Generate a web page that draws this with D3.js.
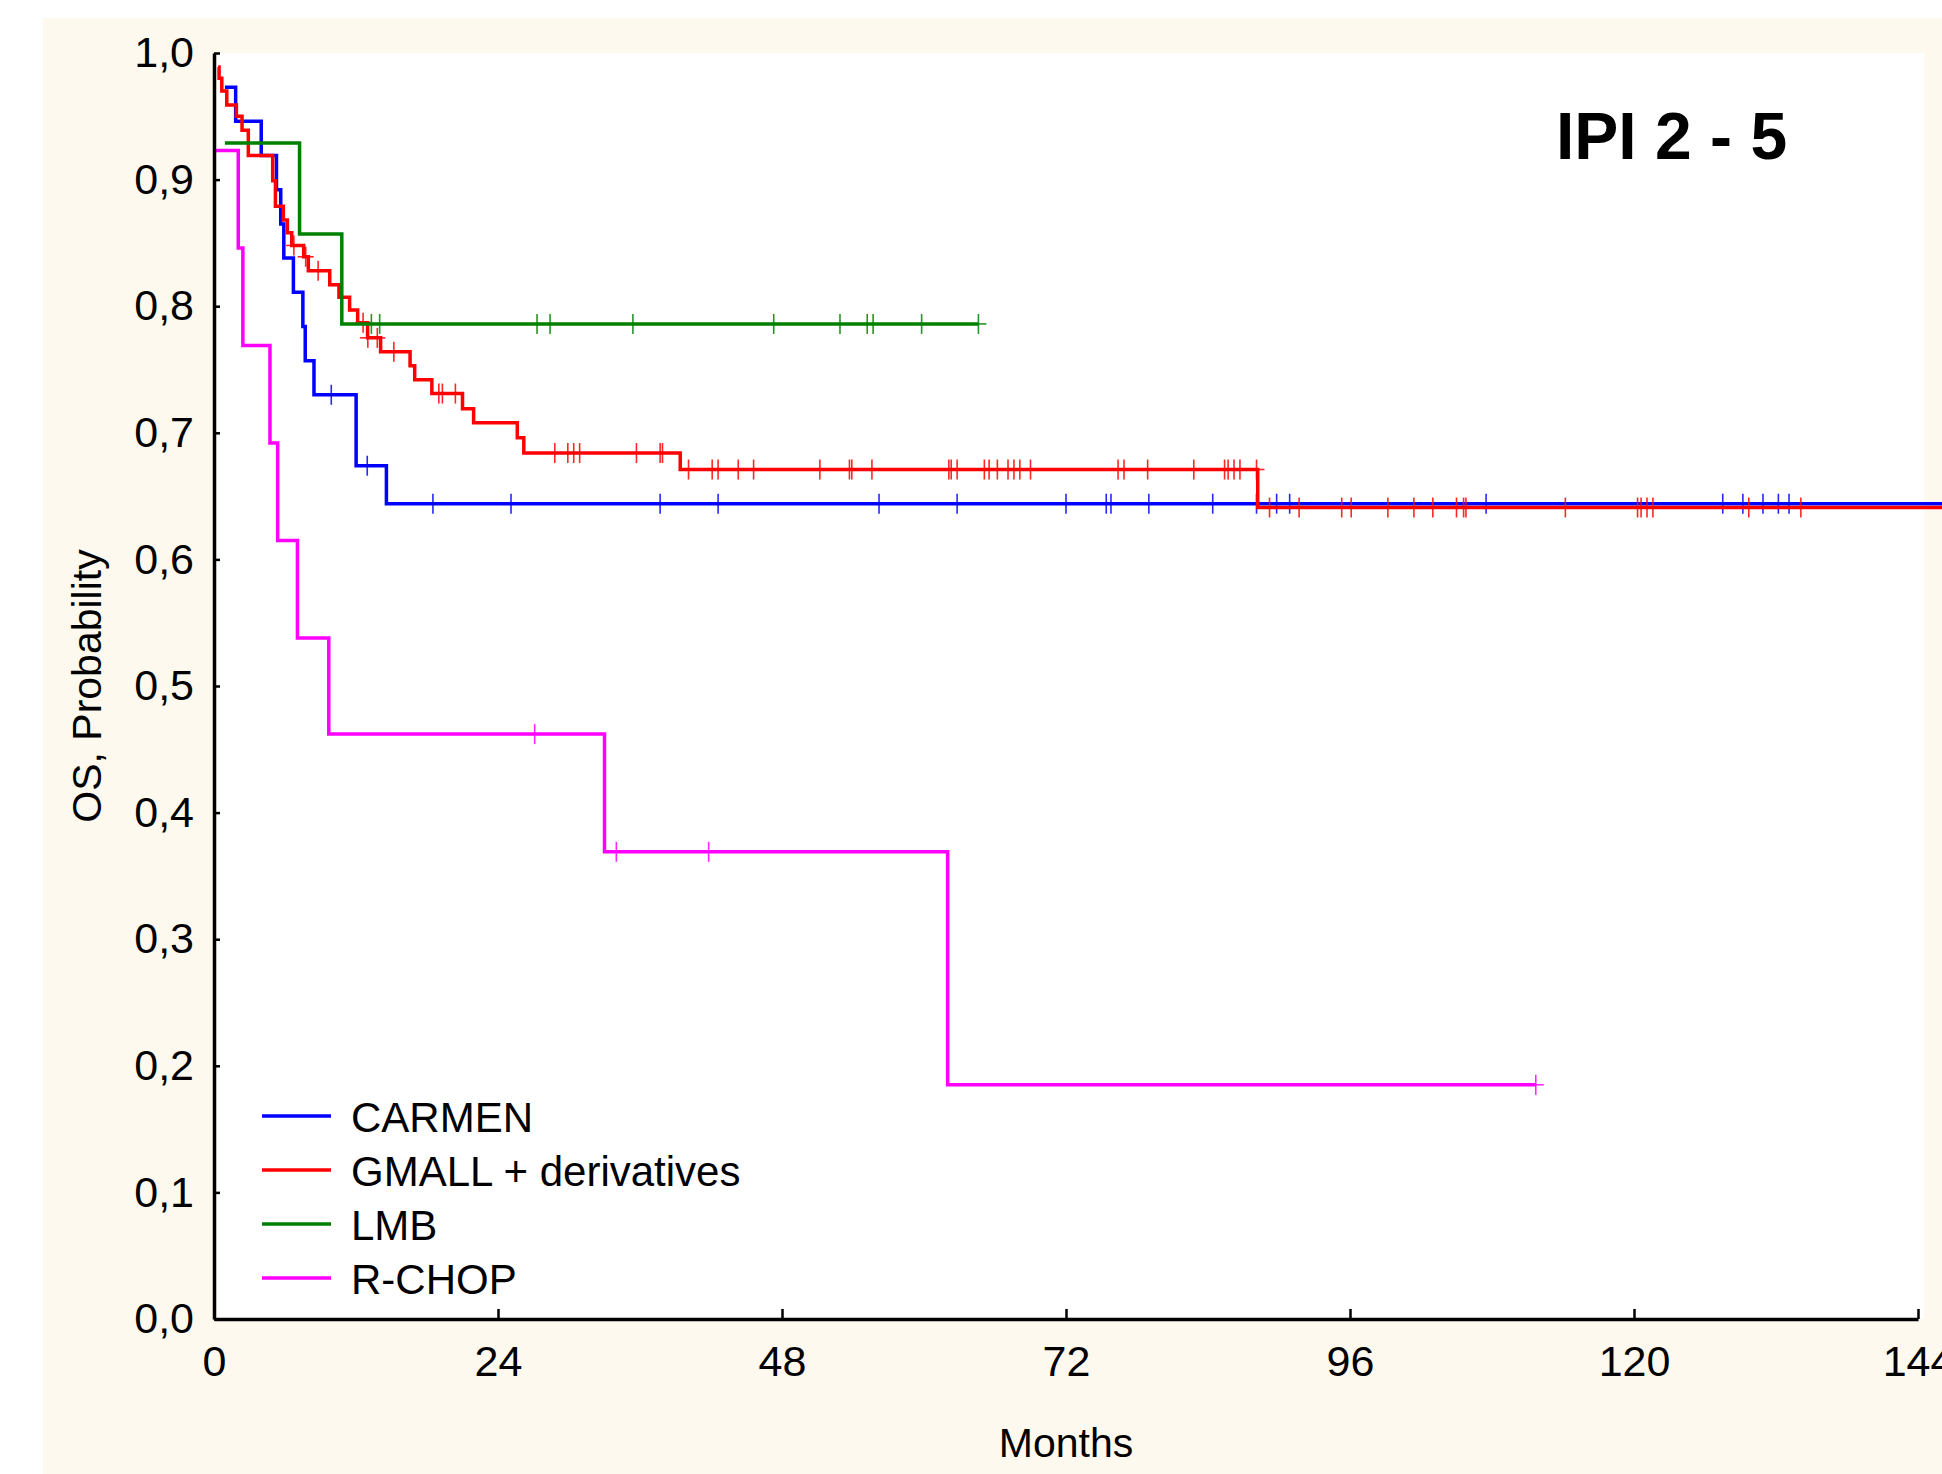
<!DOCTYPE html>
<html>
<head>
<meta charset="utf-8">
<script src="https://cdnjs.cloudflare.com/ajax/libs/d3/7.8.5/d3.min.js"></script>
<style>
  body { margin: 0; background: #fff; }
  svg text { font-family: "Liberation Sans", Arial, sans-serif; fill: #000; }
</style>
</head>
<body>
<svg id="viz"></svg>
<script>
var width = 1942, height = 1474

var groups = ["CARMEN", "GMALL + derivatives", "LMB", "R-CHOP"]
var colors = ["#0000ff", "#ff0000", "#008000", "#ff00ff"]

var xTicks = [0, 24, 48, 72, 96, 120, 144]
var yTicks = [0, 0.1, 0.2, 0.3, 0.4, 0.5, 0.6, 0.7, 0.8, 0.9, 1.0]

// step points: time of drop, survival after it
var carmenTimes = [0.92, 1.83, 3.99, 5.28, 5.64, 5.9, 6.71, 7.51, 7.71, 8.45, 12.01, 14.57, 150]
var carmenSurv = [0.973, 0.946, 0.919, 0.892, 0.865, 0.838, 0.811, 0.784, 0.757, 0.730, 0.674, 0.644, 0.644]
var carmenCensor = [9.91, 12.95, 18.5, 25.1, 37.7, 42.6, 56.2, 62.8, 72.0, 75.4, 75.8, 79.0, 84.4, 88.1,
  89.8, 90.9, 107.5, 127.5, 129.2, 130.9, 132.2, 133.1]

var gmallTimes = [0.35, 0.43, 0.66, 1.08, 1.89, 2.37, 2.9, 4.96, 5.19, 5.86, 6.2, 6.57, 7.58, 7.97, 9.78,
  10.56, 11.46, 12.14, 12.98, 14.08, 16.57, 16.96, 18.41, 21.0, 21.94, 25.63, 26.18, 39.4, 88.2, 150]
var gmallSurv = [0.989, 0.980, 0.970, 0.959, 0.950, 0.939, 0.919, 0.899, 0.879, 0.868, 0.858, 0.848, 0.839,
  0.828, 0.817, 0.807, 0.797, 0.787, 0.775, 0.764, 0.753, 0.742, 0.731, 0.719, 0.708, 0.696, 0.684, 0.671, 0.641, 0.641]
var gmallCensor = [6.75, 7.75, 8.8, 12.6, 13.0, 13.8, 15.2, 19.0, 19.3, 20.4, 28.8, 29.9, 30.4, 30.9, 35.7,
  37.7, 37.9, 40.1, 42.1, 42.6, 44.3, 45.6, 51.2, 53.7, 53.9, 55.6, 62.1, 62.3, 62.8, 65.1, 65.5, 66.2,
  67.1, 67.6, 68.1, 69.0, 76.4, 76.9, 78.9, 82.8, 85.4, 85.7, 86.2, 86.7, 88.1, 89.2, 91.7, 95.3, 96.1,
  99.2, 101.4, 103.0, 105.0, 105.6, 105.8, 114.2, 120.3, 120.6, 121.1, 121.6, 129.7, 134.1]

var lmbTimes = [0.92, 7.23, 10.8, 64.6]
var lmbSurv = [0.929, 0.857, 0.786, 0.786]
var lmbCensor = [13.3, 14.0, 27.3, 28.4, 35.4, 47.3, 52.9, 55.2, 55.7, 59.8, 64.6]

var rchopTimes = [0, 2.05, 2.44, 4.73, 5.38, 7.05, 9.7, 33.0, 62.0, 111.7]
var rchopSurv = [0.923, 0.846, 0.769, 0.692, 0.615, 0.538, 0.462, 0.369, 0.185, 0.185]
var rchopCensor = [27.1, 34.0, 41.8, 111.7]

var series = [
  {times: carmenTimes, surv: carmenSurv, censor: carmenCensor},
  {times: gmallTimes, surv: gmallSurv, censor: gmallCensor},
  {times: lmbTimes, surv: lmbSurv, censor: lmbCensor},
  {times: rchopTimes, surv: rchopSurv, censor: rchopCensor}
]

var plotLeft = 214, plotTop = 53, plotRight = 1918, plotBottom = 1319

var x = d3.scaleLinear().domain([0, 144]).range([plotLeft, plotRight])
var y = d3.scaleLinear().domain([0, 1]).range([plotBottom, plotTop])

function survAt(s, t) {
  var v = s.surv[0]
  for (var i = 0; i < s.times.length; i++) {
    if (s.times[i] <= t) v = s.surv[i]
  }
  return v
}

var svg = d3.select('svg#viz')
    .attr("width", width)
    .attr("height", height)

svg.append("rect")
    .attr("x", 43).attr("y", 18)
    .attr("width", width - 43).attr("height", height - 18)
    .attr("fill", "#fdf9ee")

svg.append("rect")
    .attr("x", plotLeft).attr("y", plotTop)
    .attr("width", 1924 - plotLeft).attr("height", plotBottom - plotTop)
    .attr("fill", "#fff")

var line = d3.line()
    .x(d => x(d[0]))
    .y(d => y(d[1]))
    .curve(d3.curveStepAfter)

series.forEach((s, i) => {
  var pts = s.times.map((t, j) => [t, s.surv[j]])

  svg.append("path")
      .datum(pts)
      .attr("d", line)
      .attr("fill", "none")
      .attr("stroke", colors[i])
      .attr("stroke-width", 3.5)

  var marks = svg.append("g")
      .attr("stroke", colors[i])
      .attr("stroke-width", 1.6)
      .attr("stroke-opacity", 0.85)
    .selectAll("g")
    .data(s.censor)
    .join("g")
      .attr("transform", d => `translate(${x(d)},${y(survAt(s, d))})`)

  marks.append("line").attr("x1", 0).attr("x2", 0).attr("y1", -10).attr("y2", 10)
  marks.append("line").attr("x1", -8).attr("x2", 8).attr("y1", 0).attr("y2", 0)
})

// axes
var xAxis = d3.axisBottom(x)
    .tickValues(xTicks)
    .tickSizeInner(-10)
    .tickSizeOuter(0)
    .tickPadding(26)

var gx = svg.append("g")
    .attr("transform", `translate(0,${plotBottom})`)
    .call(xAxis)
gx.select(".domain").attr("stroke", "#000").attr("stroke-width", 3.5)
gx.selectAll(".tick line").attr("stroke", "#000").attr("stroke-width", 2.5)
gx.selectAll(".tick text").style("font-size", "43px").attr("dy", "0.71em")

var yAxis = d3.axisLeft(y)
    .tickValues(yTicks)
    .tickSizeInner(-6)
    .tickSizeOuter(0)
    .tickPadding(20)
    .tickFormat(d => d3.format(".1f")(d).replace(".", ","))

var gy = svg.append("g")
    .attr("transform", `translate(${plotLeft},0)`)
    .call(yAxis)
gy.select(".domain").attr("stroke", "#000").attr("stroke-width", 3.5)
gy.selectAll(".tick line").attr("stroke", "#000").attr("stroke-width", 2.5)
gy.selectAll(".tick text").style("font-size", "43px")

svg.append("text")
    .attr("x", x(72))
    .attr("y", 1457)
    .attr("text-anchor", "middle")
    .style("font-size", "41px")
    .text("Months")

svg.append("text")
    .attr("transform", `translate(101,${(plotTop + plotBottom) / 2}) rotate(-90)`)
    .attr("text-anchor", "middle")
    .style("font-size", "41px")
    .text("OS, Probability")

svg.append("text")
    .attr("x", 1556)
    .attr("y", 159)
    .style("font-size", "66px")
    .style("font-weight", "bold")
    .text("IPI 2 - 5")

// legend
var legend = svg.append("g")
    .selectAll("g")
    .data(groups)
    .join("g")
      .attr("transform", (d, i) => `translate(262,${1116 + i * 54})`)

legend.append("line")
    .attr("x1", 0).attr("x2", 69)
    .attr("stroke", (d, i) => colors[i])
    .attr("stroke-width", 3.5)

legend.append("text")
    .attr("x", 89)
    .attr("y", 16)
    .style("font-size", "42px")
    .text(d => d)
</script>
</body>
</html>
